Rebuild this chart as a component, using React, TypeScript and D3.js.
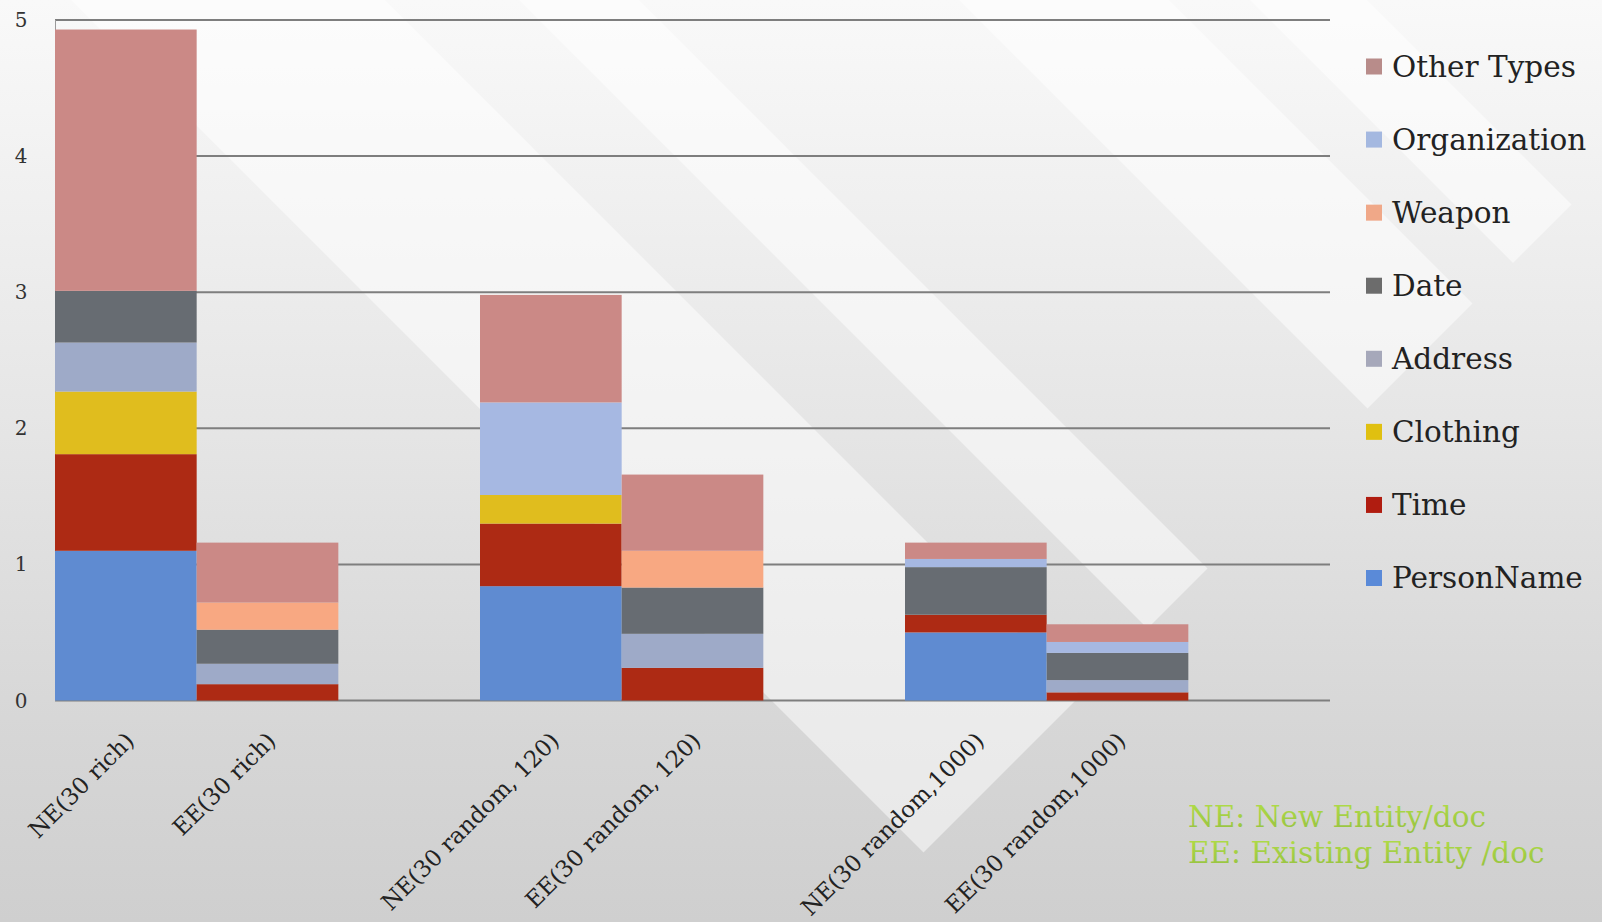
import React, { useEffect } from 'react';
import * as d3 from 'd3';

// ---- data ----
const categories = [
  'NE(30 rich)',
  'EE(30 rich)',
  '',
  'NE(30 random, 120)',
  'EE(30 random, 120)',
  '',
  'NE(30 random,1000)',
  'EE(30 random,1000)',
  '',
];
const seriesNames = ['PersonName', 'Time', 'Clothing', 'Address', 'Date', 'Weapon', 'Organization', 'Other Types'];
const personName = [1.1, 0, 0, 0.84, 0, 0, 0.5, 0, 0];
const time = [0.71, 0.12, 0, 0.46, 0.24, 0, 0.13, 0.06, 0];
const clothing = [0.46, 0, 0, 0.21, 0, 0, 0, 0, 0];
const address = [0.36, 0.15, 0, 0, 0.25, 0, 0, 0.09, 0];
const date = [0.38, 0.25, 0, 0, 0.34, 0, 0.35, 0.2, 0];
const weapon = [0, 0.2, 0, 0, 0.27, 0, 0, 0, 0];
const organization = [0, 0, 0, 0.68, 0, 0, 0.06, 0.08, 0];
const otherTypes = [1.92, 0.44, 0, 0.79, 0.56, 0, 0.12, 0.13, 0];
const yTicks = [0, 1, 2, 3, 4, 5];
const notes = ['NE: New Entity/doc', 'EE: Existing Entity /doc'];

const seriesValues: Record<string, number[]> = {
  PersonName: personName,
  Time: time,
  Clothing: clothing,
  Address: address,
  Date: date,
  Weapon: weapon,
  Organization: organization,
  'Other Types': otherTypes,
};

const barColors: Record<string, string> = {
  PersonName: '#5f8bd1',
  Time: '#ad2a14',
  Clothing: '#e0bd1e',
  Address: '#9eaac8',
  Date: '#676c72',
  Weapon: '#f8a882',
  Organization: '#a6b8e2',
  'Other Types': '#cb8986',
};
const legendColors: Record<string, string> = {
  PersonName: '#5a8ad8',
  Time: '#b01c10',
  Clothing: '#e0c010',
  Address: '#a6a8ba',
  Date: '#6c6c6c',
  Weapon: '#f0a888',
  Organization: '#a4b8e0',
  'Other Types': '#b88c8a',
};

const W = 1602;
const H = 922;
const FONT = '"DejaVu Serif", serif';

export default function App() {
  useEffect(() => {
    document.body.style.margin = '0';
    document.body.style.overflow = 'hidden';
  }, []);

  const idx = categories.map((_, i) => String(i));
  const x = d3.scaleBand<string>().domain(idx).range([55, 1330]).padding(0);
  const y = d3.scaleLinear().domain([0, 5]).range([700.5, 20]);

  const rows = categories.map((c, i) => {
    const r: any = { key: String(i) };
    seriesNames.forEach((s) => (r[s] = seriesValues[s][i]));
    return r;
  });
  const stacked = d3.stack<any>().keys(seriesNames)(rows);

  // decorative diagonal stripes (background style)
  const cut = 1776;
  const stripes: [number, number][] = [
    [71, 385],
    [519, 639],
    [959, 1169],
    [1250, 1367],
  ];
  const stripePolys = stripes.map(([a, b]) =>
    [
      [a, 0],
      [b, 0],
      [(b + cut) / 2, (cut - b) / 2],
      [(a + cut) / 2, (cut - a) / 2],
    ]
      .map((p) => p.join(','))
      .join(' ')
  );

  const legendItems = [...seriesNames].reverse();
  const legendY = d3.scaleLinear().domain([0, 7]).range([66.5, 578]);

  return (
    <svg width={W} height={H} style={{ position: 'absolute', left: 0, top: 0, display: 'block' }}>
      <defs>
        <linearGradient id="bg" x1="0" y1="0" x2="0" y2="1">
          <stop offset="0" stopColor="#f9f9f9" />
          <stop offset="0.45" stopColor="#e6e6e6" />
          <stop offset="0.8" stopColor="#d6d6d6" />
          <stop offset="1" stopColor="#cfcfcf" />
        </linearGradient>
        <linearGradient id="noteGrad" x1="0" y1="0" x2="0" y2="1">
          <stop offset="0" stopColor="#b2de48" />
          <stop offset="1" stopColor="#94c040" />
        </linearGradient>
      </defs>
      <rect x={0} y={0} width={W} height={H} fill="url(#bg)" />
      {stripePolys.map((pts, i) => (
        <polygon key={i} points={pts} fill="#ffffff" opacity={0.5} />
      ))}

      {/* gridlines */}
      {yTicks.map((t) => (
        <line key={t} x1={55} x2={1330} y1={y(t)} y2={y(t)} stroke="#7e7e7e" strokeWidth={2} />
      ))}
      <line x1={55.5} x2={55.5} y1={y(5)} y2={y(0)} stroke="#9a9a9a" strokeWidth={1} />

      {/* bars */}
      {stacked.map((layer) => (
        <g key={layer.key} fill={barColors[layer.key]}>
          {layer.map((d, i) => {
            const h = y(d[0]) - y(d[1]);
            if (h <= 0) return null;
            return (
              <rect
                key={i}
                x={x(String(i))!}
                y={y(d[1])}
                width={x.bandwidth()}
                height={h}
              />
            );
          })}
        </g>
      ))}

      {/* y tick labels */}
      {yTicks.map((t) => (
        <text
          key={t}
          x={21}
          y={y(t)}
          dy="0.35em"
          textAnchor="middle"
          fontFamily={FONT}
          fontSize={20}
          fill="#333"
        >
          {t}
        </text>
      ))}

      {/* category labels */}
      {categories.map((c, i) =>
        c ? (
          <text
            key={i}
            transform={`translate(${x(String(i))! + x.bandwidth() / 2 + 4},${y(0) + 36}) rotate(-45)`}
            textAnchor="end"
            dy="0.35em"
            fontFamily={FONT}
            fontSize={23}
            fill="#222"
          >
            {c}
          </text>
        ) : null
      )}

      {/* legend */}
      {legendItems.map((s, i) => (
        <g key={s} transform={`translate(1366,${legendY(i)})`}>
          <rect x={0} y={-8} width={16} height={16} fill={legendColors[s]} />
          <text x={26} y={0} dy="0.35em" fontFamily={FONT} fontSize={29.5} fill="#222">
            {s}
          </text>
        </g>
      ))}

      {/* notes */}
      {notes.map((n, i) => (
        <text key={i} x={1188} y={827 + i * 36} fontFamily={FONT} fontSize={29.5} fill="url(#noteGrad)">
          {n}
        </text>
      ))}
    </svg>
  );
}
